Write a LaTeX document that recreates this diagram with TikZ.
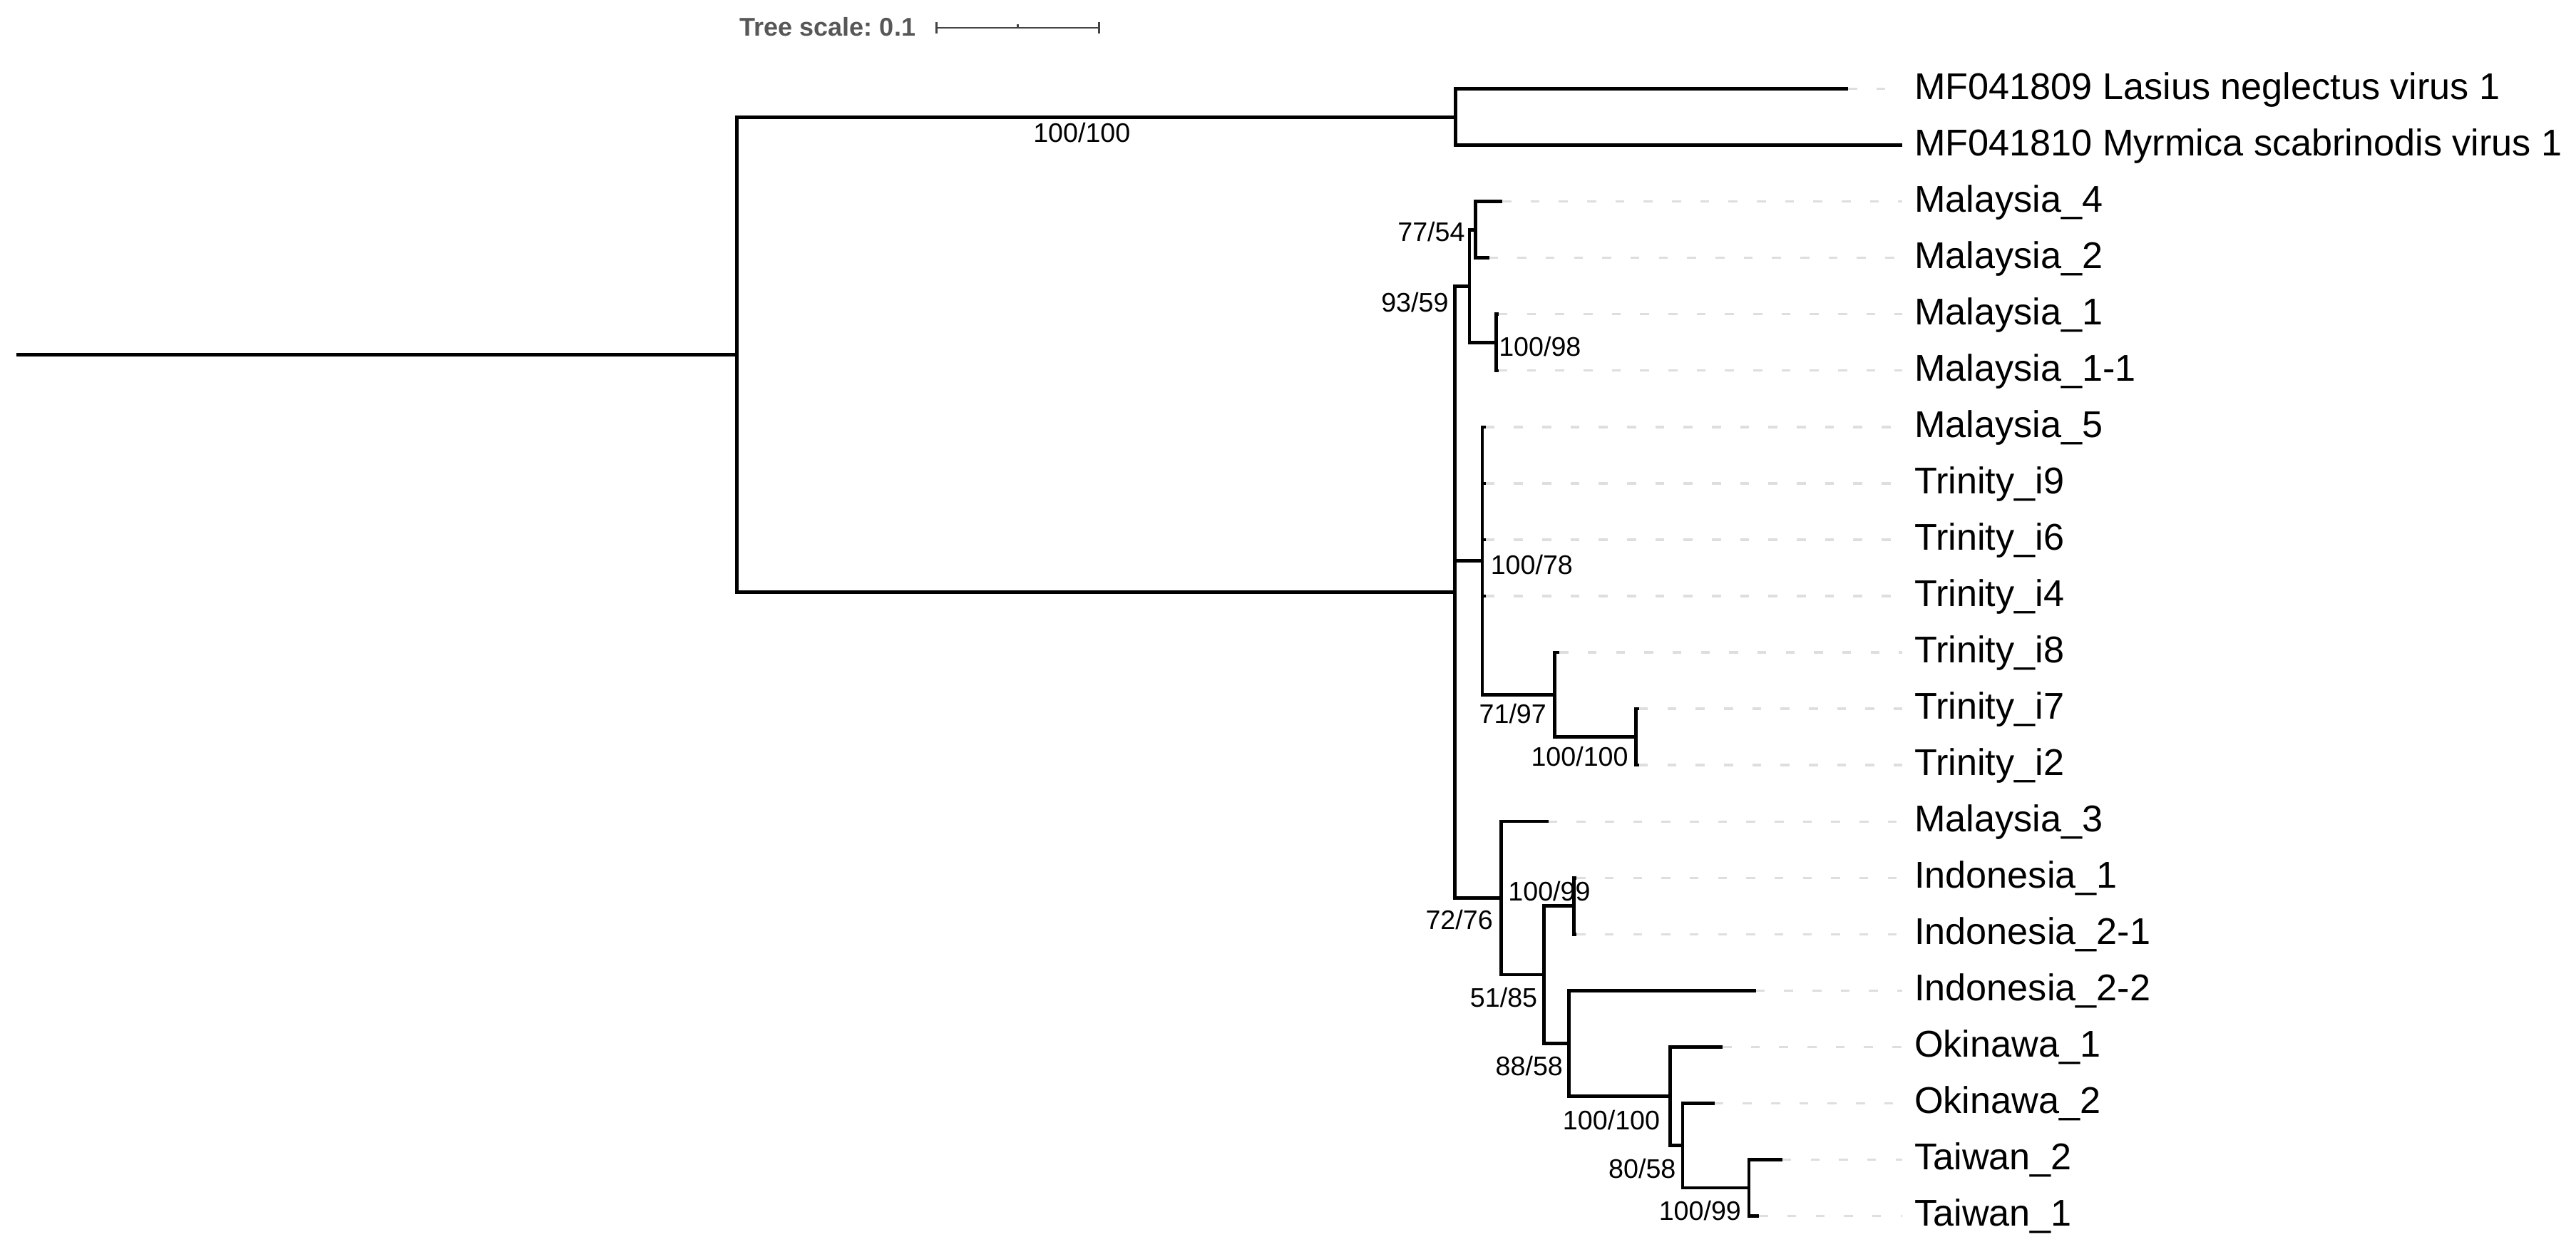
\documentclass[tikz,border=0pt]{standalone}
\usepackage{fontspec}
\setmainfont{Liberation Sans}
\usepackage{xcolor}
\usepackage{tikz}

\definecolor{guidegray}{HTML}{DEDEDE}
\definecolor{scalegray}{HTML}{575757}
\definecolor{bargray}{HTML}{444444}

\begin{document}
\begin{tikzpicture}[
  x=0.02cm, y=-0.02cm,
  branch/.style={draw=black, line width=1.15pt},
  guide/.style={draw=guidegray, line width=0.8pt, dash pattern=on 3.1pt off 6.7pt},
  leaf/.style={anchor=west, inner sep=0pt, text height=0.716em, text depth=0pt,
    font=\fontsize{12.9}{15}\selectfont},
  boot/.style={inner sep=0pt, text height=0.716em, text depth=0pt,
    font=\fontsize{9.3}{11}\selectfont},
  scalebar/.style={draw=bargray, line width=0.6pt}
]
  \useasboundingbox (0,0) rectangle (1568,762);

  %% Tree scale
  \node[inner sep=0pt, anchor=west, text height=0.716em, text depth=0pt,
    font=\fontsize{8.9}{10}\selectfont\bfseries\frenchspacing, text=scalegray] (scale) at (450, 15.8)
    {Tree scale: 0.1};
  \coordinate (s0) at (570, 17);
  \coordinate (s1) at (669, 17);
  \coordinate (sm) at (619.5, 17);
  \draw[scalebar] (s0) -- (s1);
  \draw[scalebar] ([yshift=2pt]s0) -- ([yshift=-2pt]s0);
  \draw[scalebar] ([yshift=2pt]s1) -- ([yshift=-2pt]s1);
  \draw[scalebar] (sm) -- ([yshift=1.4pt]sm);

  %% Internal nodes
  \coordinate (R)     at (10,    215.8);
  \coordinate (n0)    at (448.5, 215.8);
  \coordinate (nA)    at (886,    71.25);
  \coordinate (nB)    at (885.5, 360.4);
  \coordinate (n93)   at (894.4, 174.15);
  \coordinate (n77)   at (898.1, 139.85);
  \coordinate (n98)   at (910.6, 208.45);
  \coordinate (n78)   at (902.2, 341.35);
  \coordinate (n97)   at (946.4, 422.8);
  \coordinate (n100t) at (995.9, 448.55);
  \coordinate (n72)   at (913.8, 546.6);
  \coordinate (n85)   at (939.9, 593.25);
  \coordinate (n99a)  at (958,   551.45);
  \coordinate (n58a)  at (954.9, 635.05);
  \coordinate (n100b) at (1016.5, 667.2);
  \coordinate (n58b)  at (1024.2, 697.2);
  \coordinate (n99b)  at (1064.5, 722.95);

  %% Leaf tips
  \coordinate (mf09) at (1125,    54.1);
  \coordinate (mf10) at (1158,    88.4);
  \coordinate (my4)  at (914.4,  122.7);
  \coordinate (my2)  at (906.4,  157.0);
  \coordinate (my1)  at (912.2,  191.3);
  \coordinate (my11) at (912.2,  225.6);
  \coordinate (my5)  at (904.3,  259.9);
  \coordinate (tr9)  at (904.3,  294.2);
  \coordinate (tr6)  at (904.3,  328.5);
  \coordinate (tr4)  at (904.3,  362.8);
  \coordinate (tr8)  at (949.2,  397.1);
  \coordinate (tr7)  at (997.7,  431.4);
  \coordinate (tr2)  at (997.7,  465.7);
  \coordinate (my3)  at (942.5,  500.0);
  \coordinate (in1)  at (959.6,  534.3);
  \coordinate (in21) at (959.6,  568.6);
  \coordinate (in22) at (1068.8, 602.9);
  \coordinate (ok1)  at (1048.5, 637.2);
  \coordinate (ok2)  at (1043.6, 671.5);
  \coordinate (tw2)  at (1084.9, 705.8);
  \coordinate (tw1)  at (1070.7, 740.1);

  %% Leaf labels
  \node[leaf] (Lmf09) at (1165,  54.1) {MF041809 Lasius neglectus virus 1};
  \node[leaf] (Lmf10) at (1165,  88.4) {MF041810 Myrmica scabrinodis virus 1};
  \node[leaf] (Lmy4)  at (1165, 122.7) {Malaysia\_4};
  \node[leaf] (Lmy2)  at (1165, 157.0) {Malaysia\_2};
  \node[leaf] (Lmy1)  at (1165, 191.3) {Malaysia\_1};
  \node[leaf] (Lmy11) at (1165, 225.6) {Malaysia\_1-1};
  \node[leaf] (Lmy5)  at (1165, 259.9) {Malaysia\_5};
  \node[leaf] (Ltr9)  at (1165, 294.2) {Trinity\_i9};
  \node[leaf] (Ltr6)  at (1165, 328.5) {Trinity\_i6};
  \node[leaf] (Ltr4)  at (1165, 362.8) {Trinity\_i4};
  \node[leaf] (Ltr8)  at (1165, 397.1) {Trinity\_i8};
  \node[leaf] (Ltr7)  at (1165, 431.4) {Trinity\_i7};
  \node[leaf] (Ltr2)  at (1165, 465.7) {Trinity\_i2};
  \node[leaf] (Lmy3)  at (1165, 500.0) {Malaysia\_3};
  \node[leaf] (Lin1)  at (1165, 534.3) {Indonesia\_1};
  \node[leaf] (Lin21) at (1165, 568.6) {Indonesia\_2-1};
  \node[leaf] (Lin22) at (1165, 602.9) {Indonesia\_2-2};
  \node[leaf] (Lok1)  at (1165, 637.2) {Okinawa\_1};
  \node[leaf] (Lok2)  at (1165, 671.5) {Okinawa\_2};
  \node[leaf] (Ltw2)  at (1165, 705.8) {Taiwan\_2};
  \node[leaf] (Ltw1)  at (1165, 740.1) {Taiwan\_1};

  %% Dashed guides from tips to labels
  \draw[guide] (mf09) -- ([xshift=-4pt]Lmf09.west);
  \draw[guide] (my4)  -- ([xshift=-4pt]Lmy4.west);
  \draw[guide] (my2)  -- ([xshift=-4pt]Lmy2.west);
  \draw[guide] (my1)  -- ([xshift=-4pt]Lmy1.west);
  \draw[guide] (my11) -- ([xshift=-4pt]Lmy11.west);
  \draw[guide] (my5)  -- ([xshift=-4pt]Lmy5.west);
  \draw[guide] (tr9)  -- ([xshift=-4pt]Ltr9.west);
  \draw[guide] (tr6)  -- ([xshift=-4pt]Ltr6.west);
  \draw[guide] (tr4)  -- ([xshift=-4pt]Ltr4.west);
  \draw[guide] (tr8)  -- ([xshift=-4pt]Ltr8.west);
  \draw[guide] (tr7)  -- ([xshift=-4pt]Ltr7.west);
  \draw[guide] (tr2)  -- ([xshift=-4pt]Ltr2.west);
  \draw[guide] (my3)  -- ([xshift=-4pt]Lmy3.west);
  \draw[guide] (in1)  -- ([xshift=-4pt]Lin1.west);
  \draw[guide] (in21) -- ([xshift=-4pt]Lin21.west);
  \draw[guide] (in22) -- ([xshift=-4pt]Lin22.west);
  \draw[guide] (ok1)  -- ([xshift=-4pt]Lok1.west);
  \draw[guide] (ok2)  -- ([xshift=-4pt]Lok2.west);
  \draw[guide] (tw2)  -- ([xshift=-4pt]Ltw2.west);
  \draw[guide] (tw1)  -- ([xshift=-4pt]Ltw1.west);

  %% Branches
  \draw[branch] (R) -- (n0);
  \draw[branch] (n0) |- (nA)  (n0) |- (nB);
  \draw[branch] (nA) |- (mf09)  (nA) |- (mf10);
  \draw[branch] (nB) |- (n93)  (nB) |- (n78)  (nB) |- (n72);
  \draw[branch] (n93) |- (n77)  (n93) |- (n98);
  \draw[branch] (n77) |- (my4)  (n77) |- (my2);
  \draw[branch] (n98) |- (my1)  (n98) |- (my11);
  \draw[branch] (n78) |- (my5)  (n78) |- (tr9)  (n78) |- (tr6)
    (n78) |- (tr4)  (n78) |- (n97);
  \draw[branch] (n97) |- (tr8)  (n97) |- (n100t);
  \draw[branch] (n100t) |- (tr7)  (n100t) |- (tr2);
  \draw[branch] (n72) |- (my3)  (n72) |- (n85);
  \draw[branch] (n85) |- (n99a)  (n85) |- (n58a);
  \draw[branch] (n99a) |- (in1)  (n99a) |- (in21);
  \draw[branch] (n58a) |- (in22)  (n58a) |- (n100b);
  \draw[branch] (n100b) |- (ok1)  (n100b) |- (n58b);
  \draw[branch] (n58b) |- (ok2)  (n58b) |- (n99b);
  \draw[branch] (n99b) |- (tw2)  (n99b) |- (tw1);

  %% Support values
  \node[boot, anchor=north]      (bA)    at (658.5,  73.5) {100/100};
  \node[boot, anchor=east]       (b77)   at (892,   140.7) {77/54};
  \node[boot, anchor=north east] (b93)   at (882,   177)   {93/59};
  \node[boot, anchor=west]       (b98)   at (912,   210.5) {100/98};
  \node[boot, anchor=west]       (b78)   at (907,   343.4) {100/78};
  \node[boot, anchor=north east] (b97)   at (941.6, 427.5) {71/97};
  \node[boot, anchor=north east] (b100t) at (991.4, 453.4) {100/100};
  \node[boot, anchor=north east] (b72)   at (909,   552.8) {72/76};
  \node[boot, anchor=south west] (b99a)  at (917.7, 548.6) {100/99};
  \node[boot, anchor=north east] (b85)   at (936.1, 600)   {51/85};
  \node[boot, anchor=north east] (b58a)  at (951.6, 641.8) {88/58};
  \node[boot, anchor=north east] (b100b) at (1010.7, 674.5) {100/100};
  \node[boot, anchor=north east] (b58b)  at (1020.4, 704.4) {80/58};
  \node[boot, anchor=north east] (b99b)  at (1060.1, 729.9) {100/99};

\end{tikzpicture}
\end{document}
